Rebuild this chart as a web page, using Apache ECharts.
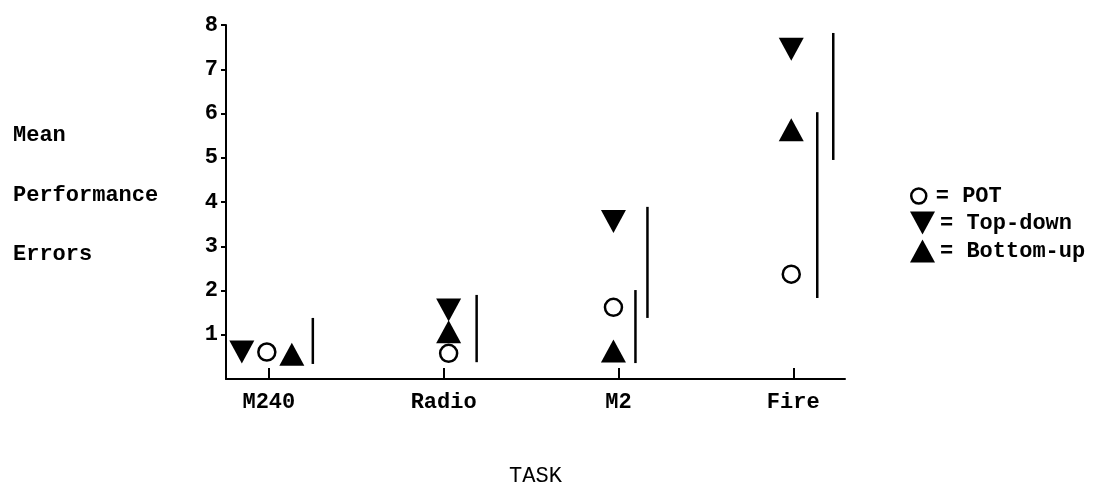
<!DOCTYPE html>
<html>
<head>
<meta charset="utf-8">
<script src="https://cdn.jsdelivr.net/npm/echarts@6/dist/echarts.min.js"></script>
<style>
  html, body { margin: 0; padding: 0; background: #fff; }
  #chart { width: 1107px; height: 499px; }
</style>
</head>
<body>
<div id="chart"></div>
<script>
// ---- data ----
const categories = ['M240', 'Radio', 'M2', 'Fire'];
const potValues = [0.61, 0.58, 1.62, 2.37];
const topDownValues = [0.61, 1.56, 3.56, 7.45];
const bottomUpValues = [0.56, 1.07, 0.63, 5.63];
const rangeCategory = [0, 1, 2, 2, 3, 3];
const rangeLow = [0.34, 0.38, 0.36, 1.38, 1.83, 4.95];
const rangeHigh = [1.38, 1.90, 2.01, 3.89, 6.03, 7.82];
const yTickValues = [1, 2, 3, 4, 5, 6, 7, 8];
const yTitleLines = ['Mean', 'Performance', 'Errors'];
const xTitle = 'TASK';
const seriesNames = ['POT', 'Top-down', 'Bottom-up'];

// ---- styles (pixel shifts of marks beside their category) ----
const potShift = [-2, 5, -5, -2];
const topDownShift = [-27, 5, -5, -2];
const bottomUpShift = [23, 5, -5, -2];
const rangeShift = [44, 33, 17, 29, 24, 40];
const yTitleCenters = [135, 195, 254];

const FONT = "'Liberation Mono', 'DejaVu Sans Mono', monospace";
const txt = { fontFamily: FONT, fontSize: 22, fontWeight: 'bold', color: '#000' };
const DOWN_TRI = 'path://M0,0L24,0L12,22Z';

function pts(values, shifts) {
  return values.map((v, i) => ({ value: [i, v], symbolOffset: [shifts[i], 0] }));
}

const chart = echarts.init(document.getElementById('chart'), null, { renderer: 'canvas' });
chart.setOption({
  animation: false,
  backgroundColor: '#fff',
  grid: { left: 226, right: 262, top: 25, bottom: 120, containLabel: false },
  xAxis: {
    type: 'value',
    min: -0.245,
    max: 3.296,
    splitLine: { show: false },
    axisLine: { show: true, onZero: false, lineStyle: { color: '#000', width: 2 } },
    axisTick: { show: true, inside: true, length: 11, customValues: [0, 1, 2, 3], lineStyle: { color: '#000', width: 2 } },
    axisLabel: { customValues: [0, 1, 2, 3], margin: 12, formatter: v => categories[Math.round(v)] || '', ...txt },
    name: xTitle,
    nameLocation: 'middle',
    nameGap: 86,
    nameTextStyle: { ...txt, fontWeight: 'normal' }
  },
  yAxis: {
    type: 'value',
    min: 0,
    max: 8,
    interval: 1,
    splitLine: { show: false },
    axisLine: { show: true, onZero: false, lineStyle: { color: '#000', width: 2 } },
    axisTick: { show: true, inside: false, length: 5, customValues: yTickValues, lineStyle: { color: '#000', width: 2 } },
    axisLabel: { customValues: yTickValues, margin: 8, ...txt }
  },
  legend: [
    {
      data: [{ name: 'POT', icon: 'circle', itemStyle: { color: '#fff', borderColor: '#000', borderWidth: 2.5, opacity: 1 } }],
      orient: 'vertical', left: 910, top: 184, padding: 0,
      itemWidth: 24, itemHeight: 15,
      formatter: '= {name}',
      textStyle: { ...txt, lineHeight: 24 },
      selectedMode: false
    },
    {
      data: [
        { name: 'Top-down', itemStyle: { color: '#000', opacity: 1 } },
        { name: 'Bottom-up', itemStyle: { color: '#000', opacity: 1 } }
      ],
      orient: 'vertical', left: 910, top: 211, padding: 0,
      itemWidth: 25, itemHeight: 23, itemGap: 4,
      formatter: '= {name}',
      textStyle: { ...txt, lineHeight: 24 },
      selectedMode: false
    }
  ],
  graphic: yTitleLines.map((t, i) => ({
    type: 'text', x: 13, y: yTitleCenters[i],
    style: { text: t, font: "bold 22px 'Liberation Mono', monospace", fill: '#000', verticalAlign: 'middle' }
  })),
  series: [
    {
      type: 'custom',
      name: 'ranges',
      data: rangeCategory.map((c, i) => [c, rangeLow[i], rangeHigh[i]]),
      encode: { x: 0, y: [1, 2] },
      renderItem: function (params, api) {
        const i = params.dataIndex;
        const x = api.coord([api.value(0), 0])[0] + rangeShift[i];
        const y1 = api.coord([0, api.value(1)])[1];
        const y2 = api.coord([0, api.value(2)])[1];
        return { type: 'line', shape: { x1: x, y1: y1, x2: x, y2: y2 }, style: { stroke: '#000', lineWidth: 2.5 } };
      },
      z: 3
    },
    {
      type: 'scatter', name: seriesNames[1],
      symbol: DOWN_TRI, symbolSize: [25, 23],
      itemStyle: { color: '#000', opacity: 1 },
      data: pts(topDownValues, topDownShift), z: 4
    },
    {
      type: 'scatter', name: seriesNames[2],
      symbol: 'triangle', symbolSize: [25, 23],
      itemStyle: { color: '#000', opacity: 1 },
      data: pts(bottomUpValues, bottomUpShift), z: 4
    },
    {
      type: 'scatter', name: seriesNames[0],
      symbol: 'circle', symbolSize: 17,
      itemStyle: { color: '#fff', borderColor: '#000', borderWidth: 2.5, opacity: 1 },
      data: pts(potValues, potShift), z: 5
    }
  ]
});
</script>
</body>
</html>
